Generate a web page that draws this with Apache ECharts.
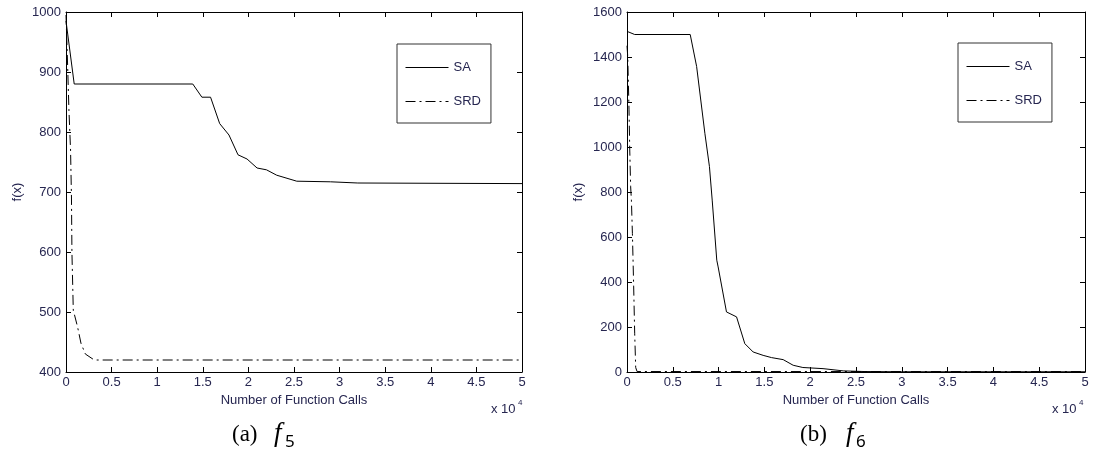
<!DOCTYPE html>
<html>
<head>
<meta charset="utf-8">
<script src="https://cdn.jsdelivr.net/npm/echarts@6/dist/echarts.min.js"></script>
<style>
html,body{margin:0;padding:0;background:#fff;}
#c{width:1093px;height:458px;}
</style>
</head>
<body>
<div id="c"></div>
<script>
// ---- data (x = number of function calls, y = f(x)) ----
const seriesNames = ['SA', 'SRD'];
const xTickLabelScale = 10000; // axis shows "x 10^4"

// (a) f5
const f5_SA = [[0,985],[900,880],[13900,880],[14900,858],[15850,858],[16850,814],[17870,795],[18860,762],[19850,755],[20950,740],[21980,737],[23100,728],[25300,718],[29000,717],[32000,715],[50000,714]];
const f5_SRD = [[0,995],[180,910],[320,837],[500,770],[600,690],[650,600],[800,503],[1270,475],[1640,448],[2120,430],[3100,420],[50000,420]];

// (b) f6
const f6_SA = [[0,1514],[840,1500],[6900,1500],[7600,1358],[8500,1061],[9000,913],[9300,764],[9800,497],[9950,467],[10860,267],[11960,245],[12860,126],[13770,89],[14860,74],[15780,64],[17050,55],[18140,30],[19200,20],[21400,15],[23600,5],[26000,2],[30000,1],[50000,1]];
const f6_SRD = [[0,1450],[80,1402],[220,1165],[300,987],[400,823],[480,764],[590,616],[730,378],[840,170],[950,20],[1100,2],[50000,2]];

const yRangeA = {min: 400, max: 1000, interval: 100};
const yRangeB = {min: 0, max: 1600, interval: 200};
const xRange = {min: 0, max: 50000, interval: 5000};

const xTitle = 'Number of Function Calls';
const yTitle = 'f(x)';
const captions = [['(a)', 'f', '5'], ['(b)', 'f', '6']];

// ---- styling ----
const FONT = 'Liberation Sans, Arial, sans-serif';
const TXT = '#262650';
const dashDot = [10, 4, 2, 4];

function xAx(grid, pos, labels) {
  return {
    type: 'value', gridIndex: grid, position: pos,
    min: xRange.min, max: xRange.max, interval: xRange.interval,
    axisLine: {show: true, onZero: false, lineStyle: {color: '#000', width: 1}},
    axisTick: {show: true, inside: true, length: 5, lineStyle: {color: '#000'}},
    axisLabel: {show: labels, margin: 4, fontSize: 13, fontFamily: FONT, color: TXT,
      formatter: v => String(v / xTickLabelScale)},
    splitLine: {show: false},
    name: labels ? xTitle : '', nameLocation: 'middle', nameGap: 22,
    nameTextStyle: {fontSize: 13, fontFamily: FONT, color: TXT}
  };
}
function yAx(grid, pos, r, labels) {
  return {
    type: 'value', gridIndex: grid, position: pos,
    min: r.min, max: r.max, interval: r.interval,
    axisLine: {show: true, onZero: false, lineStyle: {color: '#000', width: 1}},
    axisTick: {show: true, inside: true, length: 5, lineStyle: {color: '#000'}},
    axisLabel: {show: labels, margin: 5, fontSize: 13, fontFamily: FONT, color: TXT,
      formatter: v => String(v)},
    splitLine: {show: false},
    name: labels ? yTitle : '', nameLocation: 'middle', nameGap: 42, nameRotate: 90,
    nameTextStyle: {fontSize: 13, fontFamily: FONT, color: TXT}
  };
}
function line(name, data, xi, yi) {
  return {
    name: name, type: 'line', xAxisIndex: xi, yAxisIndex: yi, data: data,
    symbol: 'none', animation: false, clip: false,
    lineStyle: {color: '#000', width: 1, type: name === 'SRD' ? dashDot : 'solid'},
    itemStyle: {color: '#000'}
  };
}
function legend(left, top) {
  return {
    data: seriesNames, orient: 'vertical', left: left, top: top,
    itemWidth: 43, itemHeight: 14, itemGap: 21,
    padding: [17, 10, 15, 8],
    borderColor: '#333', borderWidth: 1, backgroundColor: '#fff',
    selectedMode: false,
    itemStyle: {opacity: 0, borderWidth: 0},
    lineStyle: {width: 1, color: '#000'},
    textStyle: {fontSize: 13, fontFamily: FONT, color: TXT}
  };
}
function caption(parts, xs) {
  return [
    {type: 'text', left: xs[0], top: 423, style: {text: parts[0], font: '23px "Liberation Serif", serif', fill: '#000'}},
    {type: 'text', left: xs[1], top: 420, style: {text: parts[1], font: 'italic 27px "Liberation Serif", serif', fill: '#000'}},
    {type: 'text', left: xs[2], top: 434, style: {text: parts[2], font: '17px "Noto Sans", "DejaVu Sans", sans-serif', fill: '#000'}}
  ];
}

const chart = echarts.init(document.getElementById('c'), null, {renderer: 'canvas'});
chart.setOption({
  backgroundColor: '#fff',
  animation: false,
  grid: [
    {left: 66, top: 12, width: 456, height: 360, show: false},
    {left: 627, top: 12, width: 458, height: 360, show: false}
  ],
  xAxis: [xAx(0, 'bottom', true), xAx(0, 'top', false), xAx(1, 'bottom', true), xAx(1, 'top', false)],
  yAxis: [yAx(0, 'left', yRangeA, true), yAx(0, 'right', yRangeA, false), yAx(1, 'left', yRangeB, true), yAx(1, 'right', yRangeB, false)],
  legend: [legend(397, 44), legend(958, 43)],
  series: [
    line('SA', f5_SA, 0, 0), line('SRD', f5_SRD, 0, 0),
    line('SA', f6_SA, 2, 2), line('SRD', f6_SRD, 2, 2)
  ],
  graphic: [
    {type: 'text', left: 491, top: 403, style: {text: 'x 10', font: '13px ' + FONT, fill: TXT}},
    {type: 'text', left: 518, top: 399, style: {text: '4', font: '8px ' + FONT, fill: TXT}},
    {type: 'text', left: 1052, top: 403, style: {text: 'x 10', font: '13px ' + FONT, fill: TXT}},
    {type: 'text', left: 1079, top: 399, style: {text: '4', font: '8px ' + FONT, fill: TXT}}
  ].concat(caption(captions[0], [232, 274, 285]), caption(captions[1], [800, 846, 856]))
});
</script>
</body>
</html>
